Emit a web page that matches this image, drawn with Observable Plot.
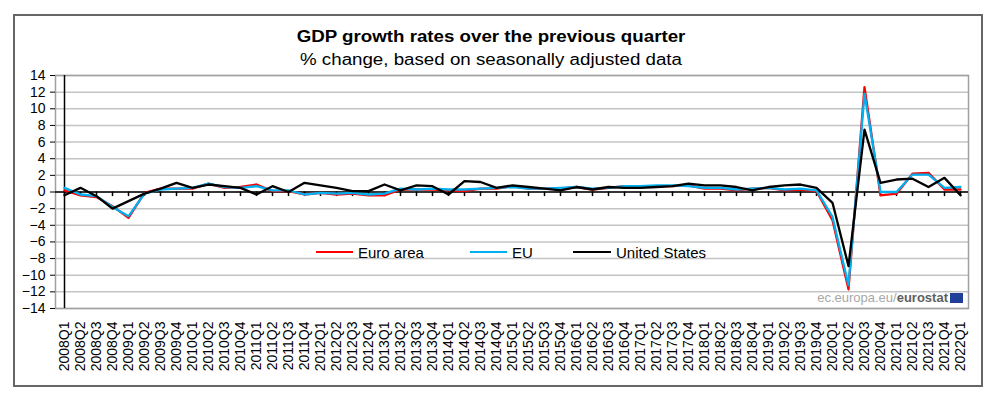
<!DOCTYPE html>
<html>
<head>
<meta charset="utf-8">
<script src="https://cdn.jsdelivr.net/npm/d3@7"></script>
<script src="https://cdn.jsdelivr.net/npm/@observablehq/plot@0.6"></script>
<style>
  body { margin: 0; background: #fff; font-family: "Liberation Sans", Arial, sans-serif; }
  #wrap { position: relative; width: 1000px; height: 393px; overflow: hidden; background: #fff; }
  #frame { position: absolute; left: 13px; top: 14px; width: 970px; height: 373px; box-sizing: border-box; border: 2px solid #666; pointer-events: none; }
  .ttl { position: absolute; left: 0; width: 982px; text-align: center; color: #000; white-space: nowrap; transform-origin: 491px 50%; transform: scaleX(1.17); }
  #title { top: 29px; font-size: 16px; line-height: 16px; font-weight: bold; }
  #subtitle { top: 52px; font-size: 16px; line-height: 16px; }
  #chart { position: absolute; left: 0; top: 65px; }
  .leg { position: absolute; top: 243px; height: 18px; display: flex; align-items: center; font-size: 15px; color: #000; white-space: nowrap; }
  .sw { display: inline-block; height: 2.5px; margin-right: 5px; }
  #credit { position: absolute; left: 700px; width: 248px; text-align: right; top: 291px; font-size: 13px; line-height: 14px; white-space: nowrap; }
  #flag { position: absolute; left: 950px; top: 293px; width: 13px; height: 10px; background: #1f3f99; }
</style>
</head>
<body>
<div id="wrap">
  <div id="title" class="ttl">GDP growth rates over the previous quarter</div>
  <div id="subtitle" class="ttl">% change, based on seasonally adjusted data</div>
  <div id="chart"></div>
  <div class="leg" style="left:316px"><span class="sw" style="width:37px;background:#ff0000"></span>Euro area</div>
  <div class="leg" style="left:470px"><span class="sw" style="width:37px;background:#00b0f0"></span>EU</div>
  <div class="leg" style="left:573px"><span class="sw" style="width:38px;background:#000"></span>United States</div>
  <div id="credit"><span style="color:#a8a8a8">ec.europa.eu/</span><span style="color:#606060;font-weight:bold">eurostat</span></div>
  <div id="flag"></div>
  <div id="frame"></div>
</div>
<script>
const quarters = [
  "2008Q1","2008Q2","2008Q3","2008Q4","2009Q1","2009Q2","2009Q3","2009Q4",
  "2010Q1","2010Q2","2010Q3","2010Q4","2011Q1","2011Q2","2011Q3","2011Q4",
  "2012Q1","2012Q2","2012Q3","2012Q4","2013Q1","2013Q2","2013Q3","2013Q4",
  "2014Q1","2014Q2","2014Q3","2014Q4","2015Q1","2015Q2","2015Q3","2015Q4",
  "2016Q1","2016Q2","2016Q3","2016Q4","2017Q1","2017Q2","2017Q3","2017Q4",
  "2018Q1","2018Q2","2018Q3","2018Q4","2019Q1","2019Q2","2019Q3","2019Q4",
  "2020Q1","2020Q2","2020Q3","2020Q4","2021Q1","2021Q2","2021Q3","2021Q4",
  "2022Q1"
];

const euroArea = [
  0.2,-0.4,-0.6,-1.7,-3.1,-0.1,0.4,0.4,
  0.4,1.0,0.5,0.6,0.9,0.1,0.1,-0.3,
  -0.1,-0.3,-0.2,-0.4,-0.4,0.3,0.3,0.3,
  0.2,0.1,0.4,0.4,0.7,0.4,0.4,0.4,
  0.6,0.3,0.5,0.7,0.7,0.7,0.7,0.8,
  0.4,0.4,0.2,0.4,0.5,0.2,0.3,0.1,
  -3.4,-11.7,12.6,-0.4,-0.2,2.2,2.3,0.3,
  0.3
];

const eu = [
  0.5,-0.3,-0.5,-1.8,-2.9,-0.2,0.3,0.4,
  0.5,1.0,0.6,0.5,0.7,0.2,0.2,-0.3,
  -0.1,-0.2,-0.1,-0.3,-0.2,0.4,0.3,0.4,
  0.3,0.3,0.4,0.5,0.6,0.4,0.4,0.5,
  0.6,0.4,0.5,0.7,0.7,0.8,0.8,0.7,
  0.5,0.5,0.3,0.4,0.5,0.3,0.4,0.2,
  -3.0,-11.2,11.8,0.0,0.0,2.1,2.1,0.5,
  0.6
];

const unitedStates = [
  -0.4,0.5,-0.5,-2.0,-1.1,-0.2,0.4,1.1,
  0.5,0.9,0.7,0.5,-0.3,0.7,0.0,1.1,
  0.8,0.5,0.1,0.1,0.9,0.2,0.8,0.7,
  -0.3,1.3,1.2,0.5,0.8,0.6,0.4,0.2,
  0.6,0.3,0.6,0.5,0.5,0.6,0.7,1.0,
  0.8,0.8,0.6,0.2,0.6,0.8,0.9,0.5,
  -1.3,-8.9,7.5,1.1,1.5,1.6,0.6,1.7,
  -0.4
];

const yTicks = [-14,-12,-10,-8,-6,-4,-2,0,2,4,6,8,10,12,14];

const series = [
  {name: "Euro area", values: euroArea, color: "#ff0000"},
  {name: "EU", values: eu, color: "#00b0f0"},
  {name: "United States", values: unitedStates, color: "#000000"}
];

const rows = series.flatMap(s => s.values.map((v, i) => ({series: s.name, q: quarters[i], v})));

const plot = Plot.plot({
  width: 1000,
  height: 320,
  marginTop: 10,
  marginBottom: 77,
  marginLeft: 55,
  marginRight: 32,
  style: {fontFamily: "Liberation Sans, Arial, sans-serif", color: "#000", background: "transparent", overflow: "visible"},
  x: {type: "point", domain: quarters, padding: 0},
  y: {domain: [-14, 14]},
  color: {domain: series.map(s => s.name), range: series.map(s => s.color)},
  marks: [
    Plot.gridY(yTicks, {stroke: "#c4c4c4", strokeOpacity: 1, strokeWidth: 1.5}),
    Plot.frame({stroke: "#a0a0a0", strokeWidth: 1.5}),
    Plot.ruleY([0], {stroke: "#000", strokeWidth: 1.5}),
    Plot.ruleX(quarters, {x: d => d, y1: 0, y2: -0.55, stroke: "#000", strokeWidth: 1.5}),
    Plot.ruleX([quarters[0]], {stroke: "#000", strokeWidth: 1.5}),
    Plot.axisY(yTicks, {tickSize: 5, tickPadding: 5, fontSize: 14, label: null, stroke: "#000"}),
    Plot.axisX({tickRotate: -90, tickSize: 0, tickPadding: 13, fontSize: 14, label: null}),
    Plot.line(rows, {x: "q", y: "v", z: "series", stroke: "series", strokeWidth: 2.3, strokeLinejoin: "round"})
  ]
});
document.getElementById("chart").appendChild(plot);
</script>
</body>
</html>
